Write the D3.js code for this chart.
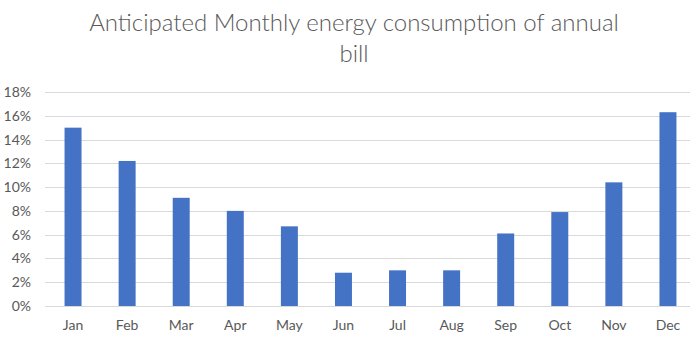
<!DOCTYPE html>
<html>
<head>
<meta charset="utf-8">
<script src="https://cdn.jsdelivr.net/npm/d3@7"></script>
<style>
  html, body { margin: 0; padding: 0; background: #fff; }
  svg { display: block; }
  text { font-family: Lato, "Open Sans", sans-serif; fill: #595959; }
</style>
</head>
<body>
<svg id="chart" width="690" height="337"></svg>
<script>
// Monthly share of the annual energy bill (percent)
const months = ["Jan", "Feb", "Mar", "Apr", "May", "Jun", "Jul", "Aug", "Sep", "Oct", "Nov", "Dec"];
const shares = [15.0, 12.2, 9.1, 8.0, 6.7, 2.8, 3.0, 3.0, 6.1, 7.9, 10.4, 16.3];
const yTicks = [0, 2, 4, 6, 8, 10, 12, 14, 16, 18];
const titleLines = ["Anticipated Monthly energy consumption of annual", "bill"];

const svg = d3.select("#chart");
const plot = { left: 46, right: 695, top: 92, bottom: 306 };

const x = d3.scaleBand()
  .domain(months)
  .range([plot.left, plot.right])
  .paddingInner(0.686)
  .paddingOuter(0.343);

const y = d3.scaleLinear()
  .domain([0, 18])
  .range([plot.bottom, plot.top]);

// Title, two centered lines
const title = svg.append("g");
titleLines.forEach((line, i) => {
  title.append("text")
    .attr("x", 354)
    .attr("y", 31 + i * 31)
    .attr("text-anchor", "middle")
    .style("font-size", "24px")
    .style("font-weight", "300")
    .text(line);
});

// Horizontal gridlines
svg.append("g")
  .selectAll("line")
  .data(yTicks)
  .join("line")
  .attr("x1", plot.left - 1)
  .attr("x2", plot.right)
  .attr("y1", d => Math.round(y(d)) + 0.5)
  .attr("y2", d => Math.round(y(d)) + 0.5)
  .attr("stroke", "#d9d9d9")
  .attr("stroke-width", 1);

// Y axis labels
const yAxis = d3.axisLeft(y)
  .tickValues(yTicks)
  .tickFormat(d => d + "%")
  .tickSize(0)
  .tickPadding(0);
const yg = svg.append("g")
  .attr("transform", `translate(31,0)`)
  .call(yAxis);
yg.select(".domain").remove();
yg.selectAll("text")
  .style("font-size", "14px")
  .style("font-family", "Lato, 'Open Sans', sans-serif")
  .attr("fill", "#595959");

// Bars
svg.append("g")
  .selectAll("rect")
  .data(months.map((m, i) => ({ m, v: shares[i] })))
  .join("rect")
  .attr("x", d => x(d.m))
  .attr("width", x.bandwidth())
  .attr("y", d => y(d.v))
  .attr("height", d => y(0) - y(d.v))
  .attr("fill", "#4472C4");

// X axis labels
const xAxis = d3.axisBottom(x).tickSize(0).tickPadding(0);
const xg = svg.append("g")
  .attr("transform", `translate(0,${plot.bottom + 14})`)
  .call(xAxis);
xg.select(".domain").remove();
xg.selectAll("text")
  .style("font-size", "14px")
  .style("font-family", "Lato, 'Open Sans', sans-serif")
  .attr("fill", "#595959");
</script>
</body>
</html>
